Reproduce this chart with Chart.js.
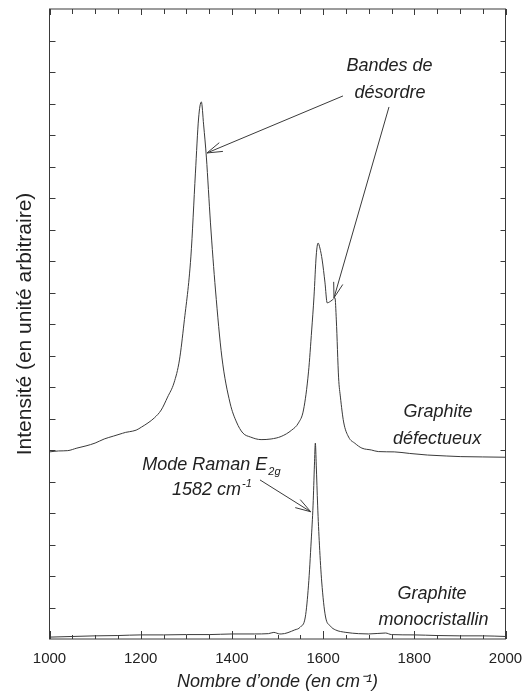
<!DOCTYPE html>
<html><head><meta charset="utf-8">
<script src="https://cdn.jsdelivr.net/npm/chart.js@4.4.1/dist/chart.umd.min.js"></script>
<style>html,body{margin:0;padding:0;background:#fff}#wrap{width:529px;height:694px;position:relative}</style>
</head><body><div id="wrap"><canvas id="c" width="529" height="694"></canvas></div>
<script>
// Raman spectrum of defective graphite (wavenumber cm-1 / arbitrary intensity)
const wnDefect = [1000,1020,1040,1060,1080,1100,1120,1140,1160,1167,1175,1190,1202,1216,1230,1245,1259,1273,1285,1295,1310,1320,1327,1333,1338,1344,1353,1364,1378,1396,1410,1424,1441,1464,1486,1508,1531,1546,1557,1568,1575,1580,1585,1589,1593,1598,1604,1609,1614,1620,1626,1629,1634,1638,1645,1656,1670,1685,1706,1721,1756,1790,1829,1870,1902,1950,2000];
const intDefect = [5.94,5.97,5.98,6.06,6.13,6.22,6.35,6.44,6.53,6.56,6.58,6.63,6.73,6.86,7.02,7.27,7.68,8.13,8.86,10.03,12.13,14.79,16.54,17.05,16.32,15.30,13.21,11.08,8.95,7.49,6.89,6.54,6.41,6.33,6.35,6.43,6.63,6.86,7.27,8.48,9.81,10.86,12.19,12.57,12.41,12.03,11.33,10.67,10.70,10.76,10.83,10.13,8.29,7.68,6.89,6.41,6.21,6.06,6.00,5.95,5.94,5.89,5.84,5.81,5.79,5.78,5.77];
// Raman spectrum of monocrystalline graphite
const wnMono = [1000,1050,1100,1150,1200,1250,1300,1350,1400,1450,1480,1492,1505,1508,1538,1550,1561,1568,1574,1578,1581,1583,1585,1588,1592,1597,1605,1616,1627,1650,1678,1700,1737,1750,1800,1850,1900,1950,2000];
const intMono = [0.06,0.08,0.10,0.11,0.13,0.13,0.14,0.14,0.16,0.16,0.17,0.21,0.16,0.16,0.29,0.38,0.70,1.71,3.14,4.25,5.52,6.22,5.52,4.25,2.98,1.81,0.73,0.41,0.29,0.21,0.17,0.16,0.19,0.14,0.13,0.11,0.10,0.10,0.08];
const xTickValues = [1000,1200,1400,1600,1800,2000];
const xTitle = "Nombre d\u2019onde (en cm\u207B\u00B9)";
const yTitle = "Intensit\u00E9 (en unit\u00E9 arbitraire)";

// annotations (in data coordinates)
const notes = [
  {text:'Bandes de', x:1745.6, y:18.19},
  {text:'d\u00E9sordre', x:1746.7, y:17.33},
  {text:'Graphite', x:1852, y:7.21},
  {text:'d\u00E9fectueux', x:1850, y:6.35},
  {text:'Graphite', x:1839, y:1.43},
  {text:'monocristallin', x:1842, y:0.59},
  {text:'Mode Raman E', sub:'2g', x:1355, y:5.52},
  {text:'1582 cm', sup:'-1', x:1356, y:4.73}
];
const arrows = [
  {from:[1643.6,17.24], to:[1345.4,15.43]},
  {from:[1744.5,16.89], to:[1623.9,10.83]},
  {from:[1461.6,5.05], to:[1572.8,4.04]}
];

const FONT = "'Liberation Sans', Arial, Helvetica, sans-serif";
const INK = '#222';
const LINE = '#3a3a3a';

const framePlugin = {
  id:'frame',
  afterDatasetsDraw(chart){
    const {ctx, chartArea:a, scales:{x, y}} = chart;
    ctx.save();
    ctx.strokeStyle = LINE; ctx.lineWidth = 1;
    ctx.strokeRect(a.left, a.top, a.right-a.left, a.bottom-a.top);
    ctx.beginPath();
    for (let v = 1000; v <= 2000; v += 50) {
      const px = Math.round(x.getPixelForValue(v)) + 0.5;
      const major = v % 200 === 0;
      ctx.moveTo(px, a.bottom); ctx.lineTo(px, a.bottom - (major ? 8 : 4));
      ctx.moveTo(px, a.top); ctx.lineTo(px, a.top + (major ? 6 : 5));
    }
    for (let v = 1; v < 20; v++) {
      const py = Math.round(y.getPixelForValue(v)) + 0.5;
      ctx.moveTo(a.left, py); ctx.lineTo(a.left + 6, py);
      ctx.moveTo(a.right, py); ctx.lineTo(a.right - 5, py);
    }
    ctx.stroke();
    // arrows
    arrows.forEach(ar => {
      const x1 = x.getPixelForValue(ar.from[0]), y1 = y.getPixelForValue(ar.from[1]);
      const x2 = x.getPixelForValue(ar.to[0]), y2 = y.getPixelForValue(ar.to[1]);
      const ang = Math.atan2(y1-y2, x1-x2);
      const L = 16, h = 0.3;
      ctx.beginPath();
      ctx.moveTo(x1, y1); ctx.lineTo(x2, y2);
      ctx.moveTo(x2 + L*Math.cos(ang-h), y2 + L*Math.sin(ang-h)); ctx.lineTo(x2, y2);
      ctx.lineTo(x2 + L*Math.cos(ang+h), y2 + L*Math.sin(ang+h));
      ctx.stroke();
    });
    // texts
    ctx.fillStyle = INK;
    ctx.textBaseline = 'middle';
    notes.forEach(n => {
      const cx = x.getPixelForValue(n.x), cy = y.getPixelForValue(n.y);
      ctx.font = 'italic 18px ' + FONT;
      const w1 = ctx.measureText(n.text).width;
      let w2 = 0, small = n.sub || n.sup;
      if (small) { ctx.font = 'italic 11px ' + FONT; w2 = ctx.measureText(small).width + 1; }
      const start = cx - (w1 + w2) / 2;
      ctx.textAlign = 'left';
      ctx.font = 'italic 18px ' + FONT;
      ctx.fillText(n.text, start, cy);
      if (small) {
        ctx.font = 'italic 11px ' + FONT;
        ctx.fillText(small, start + w1 + 1, cy + (n.sub ? 7 : -6));
      }
    });
    ctx.restore();
  }
};

const toPts = (xs, ys) => xs.map((v, i) => ({x: v, y: ys[i]}));

new Chart(document.getElementById('c'), {
  type: 'line',
  data: {
    datasets: [
      {label:'Graphite défectueux', data: toPts(wnDefect, intDefect), borderColor: LINE, borderWidth: 1, pointRadius: 0, fill: false, cubicInterpolationMode: 'monotone'},
      {label:'Graphite monocristallin', data: toPts(wnMono, intMono), borderColor: LINE, borderWidth: 1, pointRadius: 0, fill: false, cubicInterpolationMode: 'monotone'}
    ]
  },
  options: {
    responsive: false, animation: false, devicePixelRatio: 1,
    layout: {padding: {top: 9, right: 23.5, bottom: 0, left: 0}},
    plugins: {legend: {display: false}, tooltip: {enabled: false}},
    scales: {
      x: {
        type: 'linear', min: 1000, max: 2000,
        afterBuildTicks: s => { s.ticks = xTickValues.map(v => ({value: v})); },
        grid: {display: false, drawTicks: false}, border: {display: false},
        ticks: {font: {family: FONT, size: 15}, color: INK, padding: 10.5, maxRotation: 0, autoSkip: false, callback: v => String(v)},
        title: {display: true, text: xTitle, color: INK, font: {family: FONT, size: 18, style: 'italic'}, padding: {top: 0, bottom: 1}},
        afterFit: s => { s.height = 55; s.paddingLeft = 0; s.paddingRight = 0; }
      },
      y: {
        min: 0, max: 20,
        grid: {display: false, drawTicks: false}, border: {display: false},
        ticks: {display: false},
        title: {display: true, text: yTitle, color: INK, font: {family: FONT, size: 21}, padding: {top: 12.4, bottom: 0}},
        afterFit: s => { s.width = 49.5; s.paddingTop = 0; s.paddingBottom = 0; }
      }
    }
  },
  plugins: [framePlugin]
});
</script></body></html>
